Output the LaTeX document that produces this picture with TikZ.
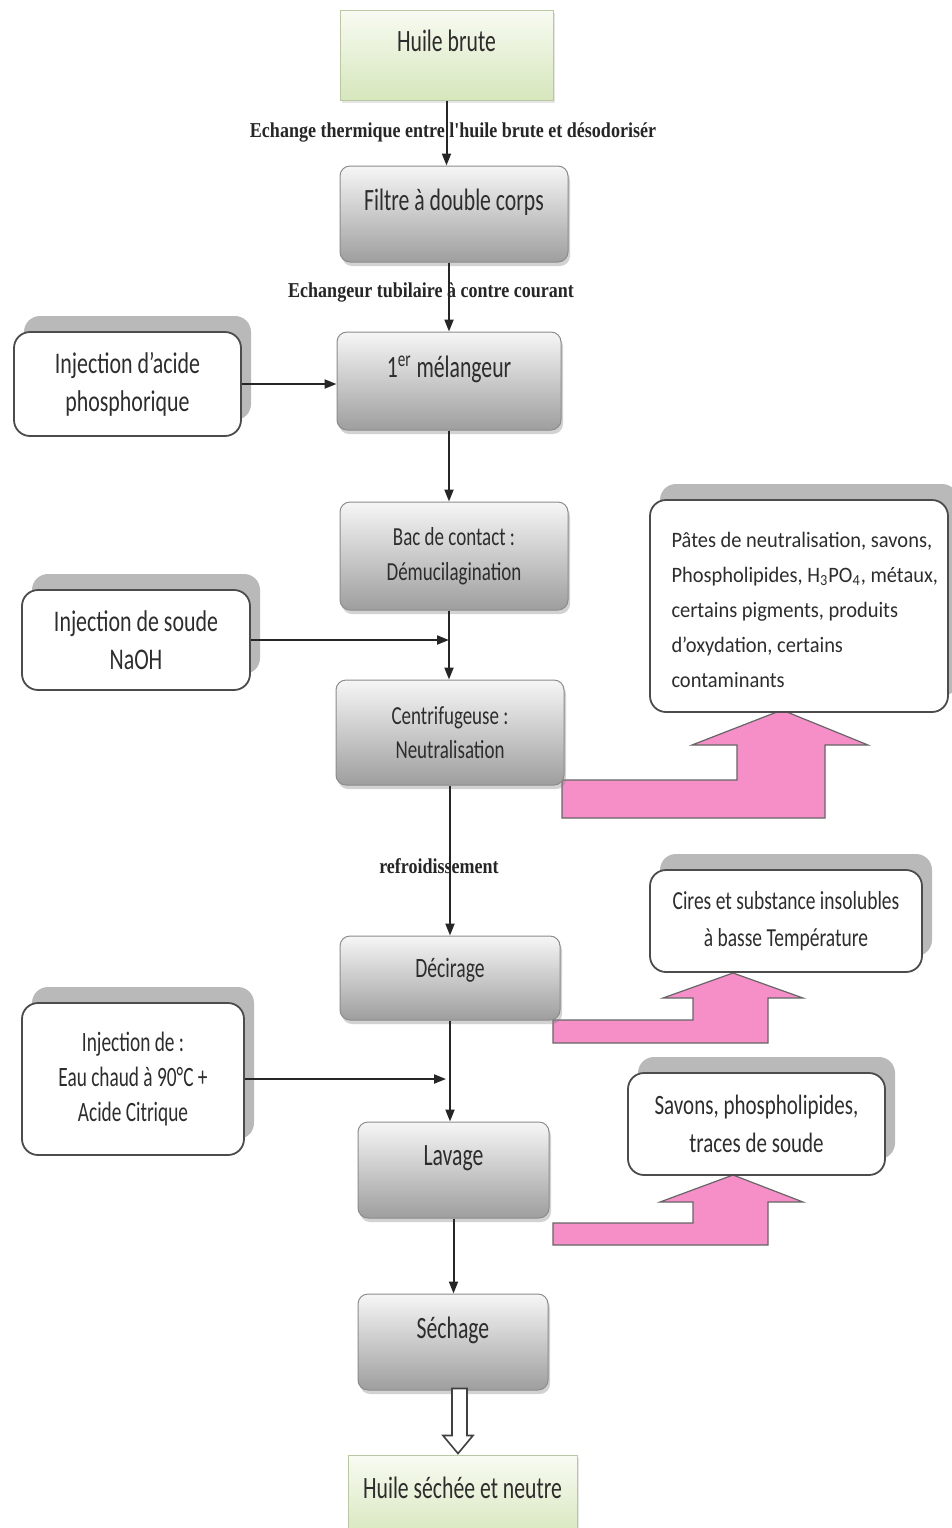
\documentclass[tikz,border=0pt]{standalone}
\usepackage{fontspec}
\setmainfont{Carlito}
\newfontfamily\fA[FakeStretch=0.70]{Carlito}
\newfontfamily\fB[FakeStretch=0.73]{Carlito}
\newfontfamily\fC[FakeStretch=0.75]{Carlito}
\newfontfamily\fD[FakeStretch=0.93]{Carlito}
\newfontfamily\fW[FakeStretch=0.69]{Carlito}
\newfontfamily\fE[FakeStretch=0.85]{Liberation Serif}
\usetikzlibrary{shadows,arrows.meta,calc}

\definecolor{boxtop}{RGB}{246,246,246}
\definecolor{boxbot}{RGB}{158,158,158}
\definecolor{boxedge}{RGB}{140,140,140}
\definecolor{greentop}{RGB}{248,251,242}
\definecolor{greenbot}{RGB}{214,230,188}
\definecolor{greenedge}{RGB}{185,200,160}
\definecolor{backgray}{RGB}{185,185,185}
\definecolor{pinkfill}{RGB}{246,143,200}
\definecolor{textdark}{RGB}{45,45,45}

\tikzset{
  stepbox/.style={draw=boxedge, line width=0.5pt, rounded corners=5pt,
    top color=boxtop, bottom color=boxbot, inner sep=0pt, align=center,
    text=textdark,
    drop shadow={shadow xshift=1pt, shadow yshift=-2pt, opacity=0.35}},
  greenbox/.style={draw=greenedge, line width=0.5pt, top color=greentop,
    bottom color=greenbot, inner sep=0pt, text=textdark,
    drop shadow={shadow xshift=1pt, shadow yshift=-1.5pt, opacity=0.2}},
  notebox/.style={draw=black!70, fill=white, line width=0.9pt, rounded corners=8pt,
    inner sep=0pt, align=center, text=textdark,
    general shadow={fill=backgray, shadow xshift=5pt, shadow yshift=8pt}},
  mainlbl/.style={yshift=6pt, text=textdark, font=\fA\fontsize{15.5pt}{18pt}\selectfont},
  smalllbl/.style={yshift=4pt, text=textdark, font=\fA\fontsize{14pt}{17pt}\selectfont},
  note/.style={font=\fE\bfseries\fontsize{10.6pt}{12pt}\selectfont, text=black!85, inner sep=0pt},
  flow/.style={line width=1pt, draw=black!85, -{Triangle[length=6pt,width=4.5pt]}},
  outflow/.style={fill=pinkfill, draw=black!60, line width=0.6pt, line join=miter},
  hollow/.style={fill=white, draw=black!75, line width=0.8pt}
}

\begin{document}
\begin{tikzpicture}[x=0.5pt,y=-0.5pt]
\useasboundingbox (0,0) rectangle (952,1528);
\fill[white] (0,0) rectangle (952,1528);

% pink outflow block arrows towards the by-product boxes
\draw[outflow] (562,780) -- (737,780) -- (737,745) -- (692,745) -- (782,710)
  -- (868,745) -- (825,745) -- (825,818) -- (562,818) -- cycle;
\draw[outflow] (553,1020) -- (693,1020) -- (693,998) -- (663,998) -- (733,973)
  -- (803,998) -- (768,998) -- (768,1043) -- (553,1043) -- cycle;
\draw[outflow] (553,1223) -- (693,1223) -- (693,1202) -- (660,1202) -- (733,1175)
  -- (803,1202) -- (768,1202) -- (768,1245) -- (553,1245) -- cycle;

% main process steps
\node[greenbox, minimum width=106.5pt, minimum height=45pt,
  label={[mainlbl, yshift=1pt]center:Huile brute}] (hb) at (446.5,55) {};
\node[stepbox, minimum width=114pt, minimum height=48pt,
  label={[mainlbl]center:Filtre à double corps}] (fil) at (454,214) {};
\node[stepbox, minimum width=112pt, minimum height=49pt,
  label={[mainlbl]center:1\textsuperscript{er} mélangeur}] (mel) at (449,381) {};
\node[stepbox, minimum width=114pt, minimum height=54pt,
  font=\fB\fontsize{13pt}{17.5pt}\selectfont] (bac) at (454,556)
  {Bac de contact :\\Démucilagination};
\node[stepbox, minimum width=114pt, minimum height=52.5pt,
  font=\fB\fontsize{13pt}{17pt}\selectfont] (cen) at (450,732.5)
  {Centrifugeuse :\\Neutralisation};
\node[stepbox, minimum width=110pt, minimum height=42pt,
  label={[smalllbl]center:Décirage}] (dec) at (450,978) {};
\node[stepbox, minimum width=95.5pt, minimum height=48pt,
  label={[mainlbl]center:Lavage}] (lav) at (453.5,1170) {};
\node[stepbox, minimum width=95pt, minimum height=48pt,
  label={[mainlbl]center:Séchage}] (sec) at (453,1342) {};

% hollow output arrow
\draw[hollow] (sec.south) ++(-1,-2) -- ++(0,47) -- ++(-9,0) -- ++(15,18)
  -- ++(15,-18) -- ++(-6,0) -- ++(0,-47) -- cycle;

\node[greenbox, minimum width=114.5pt, minimum height=42.5pt,
  label={[mainlbl, yshift=-1pt]center:Huile séchée et neutre}] (hsn) at (462.5,1497.5) {};

% injections
\node[notebox, minimum width=113.5pt, minimum height=52pt,
  font=\fB\fontsize{15pt}{19pt}\selectfont] (ac) at (127.5,384)
  {Injection d’acide\\phosphorique};
\node[notebox, minimum width=114pt, minimum height=50pt,
  font=\fB\fontsize{15pt}{19pt}\selectfont] (so) at (136,640)
  {Injection de soude\\NaOH};
\node[notebox, minimum width=111pt, minimum height=76pt,
  font=\fW\fontsize{14pt}{17.5pt}\selectfont] (wa) at (133,1079)
  {Injection de :\\Eau chaud à 90°C +\\Acide Citrique};

% by-products
\node[notebox, minimum width=149pt, minimum height=106pt,
  label={[anchor=west, xshift=11pt, yshift=-2pt, inner sep=0pt, align=left, text=textdark,
    font=\fD\fontsize{11pt}{17.5pt}\selectfont]west:{Pâtes de neutralisation, savons,\\Phospholipides, H\textsubscript{3}PO\textsubscript{4}, métaux,\\certains pigments, produits\\d’oxydation, certains\\contaminants}}] (pat) at (799,606) {};
\node[notebox, minimum width=136pt, minimum height=51pt,
  font=\fC\fontsize{13pt}{18.5pt}\selectfont] (cir) at (786,921)
  {Cires et substance insolubles\\à basse Température};
\node[notebox, minimum width=128.5pt, minimum height=51pt,
  font=\fC\fontsize{14pt}{19pt}\selectfont] (sav) at (756.5,1124)
  {Savons, phospholipides,\\traces de soude};

% flow connectors
\draw[flow] (hb.south) -- (hb.south |- fil.north);
\draw[flow] (mel.north |- fil.south) -- (mel.north);
\draw[flow] (mel.south) -- (mel.south |- bac.north);
\draw[flow] (mel.south |- bac.south) -- (mel.south |- cen.north);
\draw[flow] (cen.south) -- (cen.south |- dec.north);
\draw[flow] (dec.south) -- (dec.south |- lav.north);
\draw[flow] (lav.south) -- (lav.south |- sec.north);
\draw[flow] (ac.east) -- (ac.east -| mel.west);
\draw[flow] (so.east) -- (so.east -| mel.south);
\draw[flow, shorten >=2pt] (wa.east) -- (wa.east -| dec.south);

% connector annotations
\node[note] (n1) at (453,132) {Echange thermique entre l'huile brute et désodorisér};
\node[note] (n2) at (431,292) {Echangeur tubilaire à contre courant};
\node[note] (n3) at (439,866) {refroidissement};
\end{tikzpicture}
\end{document}
